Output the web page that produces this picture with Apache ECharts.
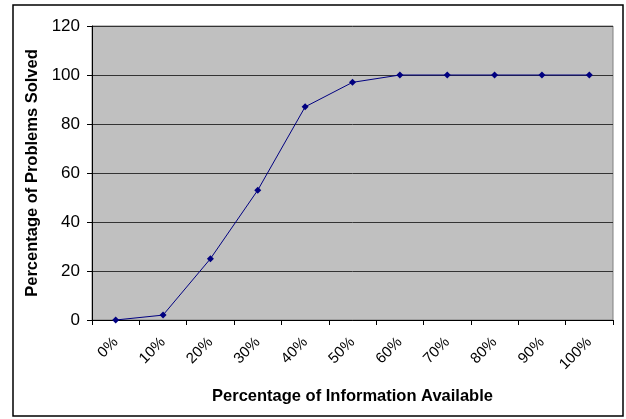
<!DOCTYPE html>
<html><head><meta charset="utf-8">
<script src="https://cdn.jsdelivr.net/npm/echarts@6/dist/echarts.min.js"></script>
<style>html,body{margin:0;padding:0;background:#fff}#c{width:626px;height:419px}</style>
</head><body><div id="c"></div>
<script>
const categories = ['0%','10%','20%','30%','40%','50%','60%','70%','80%','90%','100%'];
const solved = [0, 2, 25, 53, 87, 97, 100, 100, 100, 100, 100];
const yTicks = [0, 20, 40, 60, 80, 100, 120];

const chart = echarts.init(document.getElementById('c'), null, {renderer: 'canvas'});
const F = '"Liberation Sans", Arial, sans-serif';
chart.setOption({
  animation: false,
  backgroundColor: '#fff',
  graphic: [{
    type: 'rect', shape: {x: 13, y: 5, width: 610, height: 411},
    style: {fill: 'none', stroke: '#000', lineWidth: 1.5}, z: -1
  }],
  grid: {left: 92, right: 13, top: 26, bottom: 99, show: true,
         backgroundColor: '#c0c0c0', borderColor: '#808080', borderWidth: 1},
  xAxis: {
    type: 'category', data: categories, boundaryGap: true,
    name: 'Percentage of Information Available', nameLocation: 'middle', nameGap: 68,
    nameTextStyle: {fontFamily: F, fontWeight: 'bold', fontSize: 16.5, color: '#000'},
    axisLine: {lineStyle: {color: '#000', width: 1}},
    axisTick: {show: true, alignWithLabel: false, length: 5, lineStyle: {color: '#000'}},
    axisLabel: {rotate: 45, fontFamily: F, fontSize: 15, color: '#000', margin: 20, interval: 0},
    splitLine: {show: false}
  },
  yAxis: {
    type: 'value', min: yTicks[0], max: yTicks[yTicks.length-1], interval: 20,
    name: 'Percentage of Problems Solved', nameLocation: 'middle', nameGap: 47,
    nameTextStyle: {fontFamily: F, fontWeight: 'bold', fontSize: 16.5, color: '#000'},
    axisLine: {show: true, lineStyle: {color: '#000', width: 1}},
    axisTick: {show: true, length: 5, lineStyle: {color: '#000'}},
    axisLabel: {fontFamily: F, fontSize: 17, color: '#000', margin: 12},
    splitLine: {show: true, lineStyle: {color: '#333', width: 1}}
  },
  series: [{
    type: 'line', data: solved,
    symbol: 'diamond', symbolSize: 7,
    lineStyle: {color: '#000080', width: 1},
    itemStyle: {color: '#000080'}
  }]
});
</script></body></html>
